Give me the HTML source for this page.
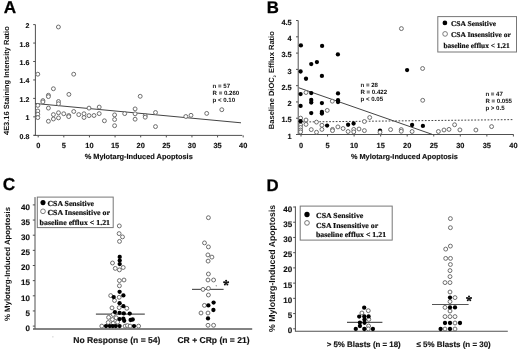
<!DOCTYPE html>
<html><head><meta charset="utf-8"><title>Figure</title>
<style>html,body{margin:0;padding:0;background:#fff;overflow:hidden;}svg{display:block;will-change:transform;text-rendering:geometricPrecision;}
</style></head>
<body><svg width="520" height="350" viewBox="0 0 520 350" shape-rendering="geometricPrecision">
<rect x="0" y="0" width="520" height="350" fill="#fff"/>
<text x="3.7" y="12.6" font-size="17.2" text-anchor="start" font-family='"Liberation Sans", sans-serif' font-weight="bold" fill="#000" stroke="#000" stroke-width="0.25" stroke-linejoin="round">A</text>
<text x="266.8" y="12.5" font-size="16.8" text-anchor="start" font-family='"Liberation Sans", sans-serif' font-weight="bold" fill="#000" stroke="#000" stroke-width="0.25" stroke-linejoin="round">B</text>
<text x="2.7" y="189.9" font-size="17.3" text-anchor="start" font-family='"Liberation Sans", sans-serif' font-weight="bold" fill="#000" stroke="#000" stroke-width="0.25" stroke-linejoin="round">C</text>
<text x="266.5" y="190.5" font-size="16.8" text-anchor="start" font-family='"Liberation Sans", sans-serif' font-weight="bold" fill="#000" stroke="#000" stroke-width="0.25" stroke-linejoin="round">D</text>
<line x1="35.4" y1="24.6" x2="35.4" y2="135.9" stroke="#505050" stroke-width="1" />
<line x1="33.9" y1="135.4" x2="242.3" y2="135.4" stroke="#505050" stroke-width="1" />
<line x1="33.199999999999996" y1="135.3" x2="35.4" y2="135.3" stroke="#505050" stroke-width="1" />
<text x="29.3" y="138.81" font-size="7.0" text-anchor="end" font-family='"Liberation Sans", sans-serif' font-weight="bold" fill="#111"  stroke="#111" stroke-width="0.15">0.8</text>
<line x1="33.199999999999996" y1="116.85000000000002" x2="35.4" y2="116.85000000000002" stroke="#505050" stroke-width="1" />
<text x="29.3" y="120.36" font-size="7.0" text-anchor="end" font-family='"Liberation Sans", sans-serif' font-weight="bold" fill="#111"  stroke="#111" stroke-width="0.15">1</text>
<line x1="33.199999999999996" y1="98.40000000000002" x2="35.4" y2="98.40000000000002" stroke="#505050" stroke-width="1" />
<text x="29.3" y="101.91" font-size="7.0" text-anchor="end" font-family='"Liberation Sans", sans-serif' font-weight="bold" fill="#111"  stroke="#111" stroke-width="0.15">1.2</text>
<line x1="33.199999999999996" y1="79.95000000000002" x2="35.4" y2="79.95000000000002" stroke="#505050" stroke-width="1" />
<text x="29.3" y="83.46" font-size="7.0" text-anchor="end" font-family='"Liberation Sans", sans-serif' font-weight="bold" fill="#111"  stroke="#111" stroke-width="0.15">1.4</text>
<line x1="33.199999999999996" y1="61.500000000000014" x2="35.4" y2="61.500000000000014" stroke="#505050" stroke-width="1" />
<text x="29.3" y="65.01" font-size="7.0" text-anchor="end" font-family='"Liberation Sans", sans-serif' font-weight="bold" fill="#111"  stroke="#111" stroke-width="0.15">1.6</text>
<line x1="33.199999999999996" y1="43.05000000000001" x2="35.4" y2="43.05000000000001" stroke="#505050" stroke-width="1" />
<text x="29.3" y="46.56" font-size="7.0" text-anchor="end" font-family='"Liberation Sans", sans-serif' font-weight="bold" fill="#111"  stroke="#111" stroke-width="0.15">1.8</text>
<line x1="33.199999999999996" y1="24.60000000000001" x2="35.4" y2="24.60000000000001" stroke="#505050" stroke-width="1" />
<text x="29.3" y="28.11" font-size="7.0" text-anchor="end" font-family='"Liberation Sans", sans-serif' font-weight="bold" fill="#111"  stroke="#111" stroke-width="0.15">2</text>
<line x1="38.2" y1="135.4" x2="38.2" y2="137.4" stroke="#505050" stroke-width="1" />
<text x="38.2" y="148.25" font-size="7.4" text-anchor="middle" font-family='"Liberation Sans", sans-serif' font-weight="bold" fill="#111"  stroke="#111" stroke-width="0.15">0</text>
<line x1="63.825" y1="135.4" x2="63.825" y2="137.4" stroke="#505050" stroke-width="1" />
<text x="63.825" y="148.25" font-size="7.4" text-anchor="middle" font-family='"Liberation Sans", sans-serif' font-weight="bold" fill="#111"  stroke="#111" stroke-width="0.15">5</text>
<line x1="89.45" y1="135.4" x2="89.45" y2="137.4" stroke="#505050" stroke-width="1" />
<text x="89.45" y="148.25" font-size="7.4" text-anchor="middle" font-family='"Liberation Sans", sans-serif' font-weight="bold" fill="#111"  stroke="#111" stroke-width="0.15">10</text>
<line x1="115.075" y1="135.4" x2="115.075" y2="137.4" stroke="#505050" stroke-width="1" />
<text x="115.075" y="148.25" font-size="7.4" text-anchor="middle" font-family='"Liberation Sans", sans-serif' font-weight="bold" fill="#111"  stroke="#111" stroke-width="0.15">15</text>
<line x1="140.7" y1="135.4" x2="140.7" y2="137.4" stroke="#505050" stroke-width="1" />
<text x="140.7" y="148.25" font-size="7.4" text-anchor="middle" font-family='"Liberation Sans", sans-serif' font-weight="bold" fill="#111"  stroke="#111" stroke-width="0.15">20</text>
<line x1="166.325" y1="135.4" x2="166.325" y2="137.4" stroke="#505050" stroke-width="1" />
<text x="166.325" y="148.25" font-size="7.4" text-anchor="middle" font-family='"Liberation Sans", sans-serif' font-weight="bold" fill="#111"  stroke="#111" stroke-width="0.15">25</text>
<line x1="191.95" y1="135.4" x2="191.95" y2="137.4" stroke="#505050" stroke-width="1" />
<text x="191.95" y="148.25" font-size="7.4" text-anchor="middle" font-family='"Liberation Sans", sans-serif' font-weight="bold" fill="#111"  stroke="#111" stroke-width="0.15">30</text>
<line x1="217.575" y1="135.4" x2="217.575" y2="137.4" stroke="#505050" stroke-width="1" />
<text x="217.575" y="148.25" font-size="7.4" text-anchor="middle" font-family='"Liberation Sans", sans-serif' font-weight="bold" fill="#111"  stroke="#111" stroke-width="0.15">35</text>
<line x1="243.2" y1="135.4" x2="243.2" y2="137.4" stroke="#505050" stroke-width="1" />
<text x="243.2" y="148.25" font-size="7.4" text-anchor="middle" font-family='"Liberation Sans", sans-serif' font-weight="bold" fill="#111"  stroke="#111" stroke-width="0.15">40</text>
<text x="138.7" y="159.15" font-size="7.4" text-anchor="middle" font-family='"Liberation Sans", sans-serif' font-weight="bold" fill="#111"  stroke="#111" stroke-width="0.15">% Mylotarg-Induced Apoptosis</text>
<text x="0" y="0" font-size="7.47" text-anchor="middle" font-family='"Liberation Sans", sans-serif' font-weight="bold" fill="#111" transform="translate(8.97,80.65) rotate(-90)">4E3.16 Staining Intensity Ratio</text>
<line x1="35.3" y1="103.5" x2="241" y2="122.8" stroke="#444" stroke-width="1" />
<text x="212.6" y="88.2" font-size="6.1" text-anchor="start" font-family='"Liberation Sans", sans-serif' font-weight="bold" fill="#111" stroke="none">n = 57</text>
<text x="212.6" y="95.2" font-size="6.1" text-anchor="start" font-family='"Liberation Sans", sans-serif' font-weight="bold" fill="#111" stroke="none">R = 0.260</text>
<text x="212.6" y="102.1" font-size="6.1" text-anchor="start" font-family='"Liberation Sans", sans-serif' font-weight="bold" fill="#111" stroke="none">p &lt; 0.10</text>
<circle cx="58.4" cy="27.0" r="1.95" fill="#fff" stroke="#666" stroke-width="0.95"/>
<circle cx="37.8" cy="74.2" r="1.95" fill="#fff" stroke="#666" stroke-width="0.95"/>
<circle cx="73.7" cy="74.2" r="1.95" fill="#fff" stroke="#666" stroke-width="0.95"/>
<circle cx="53.4" cy="88.75" r="1.95" fill="#fff" stroke="#666" stroke-width="0.95"/>
<circle cx="48.4" cy="95.25" r="1.95" fill="#fff" stroke="#666" stroke-width="0.95"/>
<circle cx="48.4" cy="96.6" r="1.95" fill="#fff" stroke="#666" stroke-width="0.95"/>
<circle cx="68.9" cy="94.4" r="1.95" fill="#fff" stroke="#666" stroke-width="0.95"/>
<circle cx="42.9" cy="100.6" r="1.95" fill="#fff" stroke="#666" stroke-width="0.95"/>
<circle cx="42.9" cy="101.9" r="1.95" fill="#fff" stroke="#666" stroke-width="0.95"/>
<circle cx="58.5" cy="101.5" r="1.95" fill="#fff" stroke="#666" stroke-width="0.95"/>
<circle cx="58.5" cy="103.75" r="1.95" fill="#fff" stroke="#666" stroke-width="0.95"/>
<circle cx="37.8" cy="105.4" r="1.95" fill="#fff" stroke="#666" stroke-width="0.95"/>
<circle cx="48.4" cy="108.1" r="1.95" fill="#fff" stroke="#666" stroke-width="0.95"/>
<circle cx="37.8" cy="111" r="1.95" fill="#fff" stroke="#666" stroke-width="0.95"/>
<circle cx="37.8" cy="114.2" r="1.95" fill="#fff" stroke="#666" stroke-width="0.95"/>
<circle cx="37.8" cy="117.6" r="1.95" fill="#fff" stroke="#666" stroke-width="0.95"/>
<circle cx="53.4" cy="114.6" r="1.95" fill="#fff" stroke="#666" stroke-width="0.95"/>
<circle cx="58.5" cy="112.75" r="1.95" fill="#fff" stroke="#666" stroke-width="0.95"/>
<circle cx="58.5" cy="117.9" r="1.95" fill="#fff" stroke="#666" stroke-width="0.95"/>
<circle cx="63.75" cy="113.75" r="1.95" fill="#fff" stroke="#666" stroke-width="0.95"/>
<circle cx="68.75" cy="115.5" r="1.95" fill="#fff" stroke="#666" stroke-width="0.95"/>
<circle cx="68.75" cy="116.6" r="1.95" fill="#fff" stroke="#666" stroke-width="0.95"/>
<circle cx="73.75" cy="111.5" r="1.95" fill="#fff" stroke="#666" stroke-width="0.95"/>
<circle cx="78.75" cy="114.6" r="1.95" fill="#fff" stroke="#666" stroke-width="0.95"/>
<circle cx="84" cy="113.75" r="1.95" fill="#fff" stroke="#666" stroke-width="0.95"/>
<circle cx="84" cy="117.5" r="1.95" fill="#fff" stroke="#666" stroke-width="0.95"/>
<circle cx="89" cy="108.1" r="1.95" fill="#fff" stroke="#666" stroke-width="0.95"/>
<circle cx="89" cy="115.6" r="1.95" fill="#fff" stroke="#666" stroke-width="0.95"/>
<circle cx="94" cy="115.5" r="1.95" fill="#fff" stroke="#666" stroke-width="0.95"/>
<circle cx="48.4" cy="121.25" r="1.95" fill="#fff" stroke="#666" stroke-width="0.95"/>
<circle cx="53.4" cy="119" r="1.95" fill="#fff" stroke="#666" stroke-width="0.95"/>
<circle cx="99.2" cy="107.1" r="1.95" fill="#fff" stroke="#666" stroke-width="0.95"/>
<circle cx="99.2" cy="113.6" r="1.95" fill="#fff" stroke="#666" stroke-width="0.95"/>
<circle cx="104.4" cy="120.8" r="1.95" fill="#fff" stroke="#666" stroke-width="0.95"/>
<circle cx="114.6" cy="114.9" r="1.95" fill="#fff" stroke="#666" stroke-width="0.95"/>
<circle cx="114.6" cy="119.5" r="1.95" fill="#fff" stroke="#666" stroke-width="0.95"/>
<circle cx="114.6" cy="125.7" r="1.95" fill="#fff" stroke="#666" stroke-width="0.95"/>
<circle cx="124.7" cy="113.6" r="1.95" fill="#fff" stroke="#666" stroke-width="0.95"/>
<circle cx="135.1" cy="108.9" r="1.95" fill="#fff" stroke="#666" stroke-width="0.95"/>
<circle cx="135.1" cy="113.8" r="1.95" fill="#fff" stroke="#666" stroke-width="0.95"/>
<circle cx="135.1" cy="119.2" r="1.95" fill="#fff" stroke="#666" stroke-width="0.95"/>
<circle cx="140.2" cy="96.3" r="1.95" fill="#fff" stroke="#666" stroke-width="0.95"/>
<circle cx="145.2" cy="115.6" r="1.95" fill="#fff" stroke="#666" stroke-width="0.95"/>
<circle cx="145.2" cy="117.2" r="1.95" fill="#fff" stroke="#666" stroke-width="0.95"/>
<circle cx="155.5" cy="112.5" r="1.95" fill="#fff" stroke="#666" stroke-width="0.95"/>
<circle cx="155.5" cy="126.6" r="1.95" fill="#fff" stroke="#666" stroke-width="0.95"/>
<circle cx="185.8" cy="116.5" r="1.95" fill="#fff" stroke="#666" stroke-width="0.95"/>
<circle cx="191" cy="115.3" r="1.95" fill="#fff" stroke="#666" stroke-width="0.95"/>
<circle cx="206.7" cy="113.4" r="1.95" fill="#fff" stroke="#666" stroke-width="0.95"/>
<circle cx="221.8" cy="109.7" r="1.95" fill="#fff" stroke="#666" stroke-width="0.95"/>
<line x1="298.2" y1="20.5" x2="298.2" y2="135.0" stroke="#505050" stroke-width="1" />
<line x1="296.7" y1="134.5" x2="513.6" y2="134.5" stroke="#505050" stroke-width="1" />
<line x1="296.0" y1="134.5" x2="298.2" y2="134.5" stroke="#505050" stroke-width="1" />
<text x="291.7" y="138.75" font-size="7.4" text-anchor="end" font-family='"Liberation Sans", sans-serif' font-weight="bold" fill="#111"  stroke="#111" stroke-width="0.15">1</text>
<line x1="296.0" y1="118.22" x2="298.2" y2="118.22" stroke="#505050" stroke-width="1" />
<text x="291.7" y="122.47" font-size="7.4" text-anchor="end" font-family='"Liberation Sans", sans-serif' font-weight="bold" fill="#111"  stroke="#111" stroke-width="0.15">1.5</text>
<line x1="296.0" y1="101.94" x2="298.2" y2="101.94" stroke="#505050" stroke-width="1" />
<text x="291.7" y="106.19" font-size="7.4" text-anchor="end" font-family='"Liberation Sans", sans-serif' font-weight="bold" fill="#111"  stroke="#111" stroke-width="0.15">2</text>
<line x1="296.0" y1="85.66" x2="298.2" y2="85.66" stroke="#505050" stroke-width="1" />
<text x="291.7" y="89.91" font-size="7.4" text-anchor="end" font-family='"Liberation Sans", sans-serif' font-weight="bold" fill="#111"  stroke="#111" stroke-width="0.15">2.5</text>
<line x1="296.0" y1="69.38" x2="298.2" y2="69.38" stroke="#505050" stroke-width="1" />
<text x="291.7" y="73.63" font-size="7.4" text-anchor="end" font-family='"Liberation Sans", sans-serif' font-weight="bold" fill="#111"  stroke="#111" stroke-width="0.15">3</text>
<line x1="296.0" y1="53.099999999999994" x2="298.2" y2="53.099999999999994" stroke="#505050" stroke-width="1" />
<text x="291.7" y="57.35" font-size="7.4" text-anchor="end" font-family='"Liberation Sans", sans-serif' font-weight="bold" fill="#111"  stroke="#111" stroke-width="0.15">3.5</text>
<line x1="296.0" y1="36.81999999999999" x2="298.2" y2="36.81999999999999" stroke="#505050" stroke-width="1" />
<text x="291.7" y="41.07" font-size="7.4" text-anchor="end" font-family='"Liberation Sans", sans-serif' font-weight="bold" fill="#111"  stroke="#111" stroke-width="0.15">4</text>
<line x1="296.0" y1="20.539999999999992" x2="298.2" y2="20.539999999999992" stroke="#505050" stroke-width="1" />
<text x="291.7" y="24.79" font-size="7.4" text-anchor="end" font-family='"Liberation Sans", sans-serif' font-weight="bold" fill="#111"  stroke="#111" stroke-width="0.15">4.5</text>
<line x1="301.0" y1="134.5" x2="301.0" y2="136.5" stroke="#505050" stroke-width="1" />
<text x="301.0" y="148.05" font-size="7.4" text-anchor="middle" font-family='"Liberation Sans", sans-serif' font-weight="bold" fill="#111"  stroke="#111" stroke-width="0.15">0</text>
<line x1="327.55" y1="134.5" x2="327.55" y2="136.5" stroke="#505050" stroke-width="1" />
<text x="327.55" y="148.05" font-size="7.4" text-anchor="middle" font-family='"Liberation Sans", sans-serif' font-weight="bold" fill="#111"  stroke="#111" stroke-width="0.15">5</text>
<line x1="354.1" y1="134.5" x2="354.1" y2="136.5" stroke="#505050" stroke-width="1" />
<text x="354.1" y="148.05" font-size="7.4" text-anchor="middle" font-family='"Liberation Sans", sans-serif' font-weight="bold" fill="#111"  stroke="#111" stroke-width="0.15">10</text>
<line x1="380.65" y1="134.5" x2="380.65" y2="136.5" stroke="#505050" stroke-width="1" />
<text x="380.65" y="148.05" font-size="7.4" text-anchor="middle" font-family='"Liberation Sans", sans-serif' font-weight="bold" fill="#111"  stroke="#111" stroke-width="0.15">15</text>
<line x1="407.2" y1="134.5" x2="407.2" y2="136.5" stroke="#505050" stroke-width="1" />
<text x="407.2" y="148.05" font-size="7.4" text-anchor="middle" font-family='"Liberation Sans", sans-serif' font-weight="bold" fill="#111"  stroke="#111" stroke-width="0.15">20</text>
<line x1="433.75" y1="134.5" x2="433.75" y2="136.5" stroke="#505050" stroke-width="1" />
<text x="433.75" y="148.05" font-size="7.4" text-anchor="middle" font-family='"Liberation Sans", sans-serif' font-weight="bold" fill="#111"  stroke="#111" stroke-width="0.15">25</text>
<line x1="460.29999999999995" y1="134.5" x2="460.29999999999995" y2="136.5" stroke="#505050" stroke-width="1" />
<text x="460.29999999999995" y="148.05" font-size="7.4" text-anchor="middle" font-family='"Liberation Sans", sans-serif' font-weight="bold" fill="#111"  stroke="#111" stroke-width="0.15">30</text>
<line x1="486.85" y1="134.5" x2="486.85" y2="136.5" stroke="#505050" stroke-width="1" />
<text x="486.85" y="148.05" font-size="7.4" text-anchor="middle" font-family='"Liberation Sans", sans-serif' font-weight="bold" fill="#111"  stroke="#111" stroke-width="0.15">35</text>
<line x1="513.4" y1="134.5" x2="513.4" y2="136.5" stroke="#505050" stroke-width="1" />
<text x="513.4" y="148.05" font-size="7.4" text-anchor="middle" font-family='"Liberation Sans", sans-serif' font-weight="bold" fill="#111"  stroke="#111" stroke-width="0.15">40</text>
<text x="404.4" y="159.31" font-size="7.3" text-anchor="middle" font-family='"Liberation Sans", sans-serif' font-weight="bold" fill="#111"  stroke="#111" stroke-width="0.15">% Mylotarg-Induced Apoptosis</text>
<text x="0" y="0" font-size="7.55" text-anchor="middle" font-family='"Liberation Sans", sans-serif' font-weight="bold" fill="#111" transform="translate(273.7,80.2) rotate(-90)">Baseline DiOC<tspan font-size="3.6" dy="2.2">2</tspan><tspan dy="-2.2"> Efflux Ratio</tspan></text>
<line x1="298.75" y1="87.75" x2="432.0" y2="134.3" stroke="#444" stroke-width="1" />
<line x1="299.5" y1="122.0" x2="513.8" y2="119.6" stroke="#444" stroke-width="1" stroke-dasharray="1.7 1.6"/>
<text x="360.5" y="86.9" font-size="6.1" text-anchor="start" font-family='"Liberation Sans", sans-serif' font-weight="bold" fill="#111" stroke="none">n = 28</text>
<text x="360.5" y="94.0" font-size="6.1" text-anchor="start" font-family='"Liberation Sans", sans-serif' font-weight="bold" fill="#111" stroke="none">R = 0.422</text>
<text x="360.5" y="101.1" font-size="6.1" text-anchor="start" font-family='"Liberation Sans", sans-serif' font-weight="bold" fill="#111" stroke="none">p &lt; 0.05</text>
<text x="485.4" y="96.1" font-size="6.1" text-anchor="start" font-family='"Liberation Sans", sans-serif' font-weight="bold" fill="#111" stroke="none">n = 47</text>
<text x="485.4" y="103.2" font-size="6.1" text-anchor="start" font-family='"Liberation Sans", sans-serif' font-weight="bold" fill="#111" stroke="none">R = 0.055</text>
<text x="485.4" y="110.3" font-size="6.1" text-anchor="start" font-family='"Liberation Sans", sans-serif' font-weight="bold" fill="#111" stroke="none">p &gt; 0.5</text>
<circle cx="306" cy="92.5" r="1.95" fill="#fff" stroke="#666" stroke-width="0.95"/>
<circle cx="332.3" cy="101.2" r="1.95" fill="#fff" stroke="#666" stroke-width="0.95"/>
<circle cx="327.25" cy="110.4" r="1.95" fill="#fff" stroke="#666" stroke-width="0.95"/>
<circle cx="300.6" cy="118.1" r="1.95" fill="#fff" stroke="#666" stroke-width="0.95"/>
<circle cx="306" cy="120" r="1.95" fill="#fff" stroke="#666" stroke-width="0.95"/>
<circle cx="306" cy="124.4" r="1.95" fill="#fff" stroke="#666" stroke-width="0.95"/>
<circle cx="316.5" cy="122.1" r="1.95" fill="#fff" stroke="#666" stroke-width="0.95"/>
<circle cx="321.9" cy="125.25" r="1.95" fill="#fff" stroke="#666" stroke-width="0.95"/>
<circle cx="321.9" cy="129.4" r="1.95" fill="#fff" stroke="#666" stroke-width="0.95"/>
<circle cx="300.6" cy="125" r="1.95" fill="#fff" stroke="#666" stroke-width="0.95"/>
<circle cx="300.6" cy="127.5" r="1.95" fill="#fff" stroke="#666" stroke-width="0.95"/>
<circle cx="300.6" cy="130" r="1.95" fill="#fff" stroke="#666" stroke-width="0.95"/>
<circle cx="300.6" cy="131.9" r="1.95" fill="#fff" stroke="#666" stroke-width="0.95"/>
<circle cx="311.25" cy="129.6" r="1.95" fill="#fff" stroke="#666" stroke-width="0.95"/>
<circle cx="316.5" cy="132.25" r="1.95" fill="#fff" stroke="#666" stroke-width="0.95"/>
<circle cx="332.5" cy="129.4" r="1.95" fill="#fff" stroke="#666" stroke-width="0.95"/>
<circle cx="332.5" cy="130.6" r="1.95" fill="#fff" stroke="#666" stroke-width="0.95"/>
<circle cx="337.9" cy="126.9" r="1.95" fill="#fff" stroke="#666" stroke-width="0.95"/>
<circle cx="343.1" cy="128.5" r="1.95" fill="#fff" stroke="#666" stroke-width="0.95"/>
<circle cx="348.1" cy="131.5" r="1.95" fill="#fff" stroke="#666" stroke-width="0.95"/>
<circle cx="353.75" cy="129.4" r="1.95" fill="#fff" stroke="#666" stroke-width="0.95"/>
<circle cx="353.75" cy="131.9" r="1.95" fill="#fff" stroke="#666" stroke-width="0.95"/>
<circle cx="359" cy="129" r="1.95" fill="#fff" stroke="#666" stroke-width="0.95"/>
<circle cx="364.4" cy="121.5" r="1.95" fill="#fff" stroke="#666" stroke-width="0.95"/>
<circle cx="369.7" cy="117.5" r="1.95" fill="#fff" stroke="#666" stroke-width="0.95"/>
<circle cx="364.4" cy="130.6" r="1.95" fill="#fff" stroke="#666" stroke-width="0.95"/>
<circle cx="390.6" cy="129.6" r="1.95" fill="#fff" stroke="#666" stroke-width="0.95"/>
<circle cx="401.25" cy="129.6" r="1.95" fill="#fff" stroke="#666" stroke-width="0.95"/>
<circle cx="401.25" cy="131.25" r="1.95" fill="#fff" stroke="#666" stroke-width="0.95"/>
<circle cx="412.1" cy="131.5" r="1.95" fill="#fff" stroke="#666" stroke-width="0.95"/>
<circle cx="422.7" cy="100.3" r="1.95" fill="#fff" stroke="#666" stroke-width="0.95"/>
<circle cx="422.6" cy="68.5" r="1.95" fill="#fff" stroke="#666" stroke-width="0.95"/>
<circle cx="401.4" cy="28.6" r="1.95" fill="#fff" stroke="#666" stroke-width="0.95"/>
<circle cx="438.4" cy="131.5" r="1.95" fill="#fff" stroke="#666" stroke-width="0.95"/>
<circle cx="444" cy="130" r="1.95" fill="#fff" stroke="#666" stroke-width="0.95"/>
<circle cx="449" cy="129.4" r="1.95" fill="#fff" stroke="#666" stroke-width="0.95"/>
<circle cx="454.6" cy="124.75" r="1.95" fill="#fff" stroke="#666" stroke-width="0.95"/>
<circle cx="459.9" cy="129.9" r="1.95" fill="#fff" stroke="#666" stroke-width="0.95"/>
<circle cx="475.9" cy="130" r="1.95" fill="#fff" stroke="#666" stroke-width="0.95"/>
<circle cx="491.6" cy="126.6" r="1.95" fill="#fff" stroke="#666" stroke-width="0.95"/>
<circle cx="300.9" cy="45.4" r="2.15" fill="#000"/>
<circle cx="322.1" cy="45.9" r="2.15" fill="#000"/>
<circle cx="337.9" cy="54.4" r="2.15" fill="#000"/>
<circle cx="311.25" cy="64.1" r="2.15" fill="#000"/>
<circle cx="316.9" cy="62.1" r="2.15" fill="#000"/>
<circle cx="300.6" cy="71.5" r="2.15" fill="#000"/>
<circle cx="321.9" cy="75.9" r="2.15" fill="#000"/>
<circle cx="306" cy="78.75" r="2.15" fill="#000"/>
<circle cx="300.6" cy="94.1" r="2.15" fill="#000"/>
<circle cx="311.25" cy="93.1" r="2.15" fill="#000"/>
<circle cx="338" cy="93.4" r="2.15" fill="#000"/>
<circle cx="311.25" cy="100" r="2.15" fill="#000"/>
<circle cx="311.25" cy="102.5" r="2.15" fill="#000"/>
<circle cx="338" cy="100.2" r="2.15" fill="#000"/>
<circle cx="338" cy="102.1" r="2.15" fill="#000"/>
<circle cx="321.9" cy="103.1" r="2.15" fill="#000"/>
<circle cx="300.6" cy="105.9" r="2.15" fill="#000"/>
<circle cx="311.25" cy="113.1" r="2.15" fill="#000"/>
<circle cx="321.9" cy="111.9" r="2.15" fill="#000"/>
<circle cx="321.9" cy="113.5" r="2.15" fill="#000"/>
<circle cx="300.6" cy="121.25" r="2.15" fill="#000"/>
<circle cx="327.1" cy="125.6" r="2.15" fill="#000"/>
<circle cx="348.1" cy="124.75" r="2.15" fill="#000"/>
<circle cx="353.6" cy="123.5" r="2.15" fill="#000"/>
<circle cx="380" cy="130.6" r="2.15" fill="#000"/>
<circle cx="412.1" cy="125" r="2.15" fill="#000"/>
<circle cx="422.9" cy="125.9" r="2.15" fill="#000"/>
<circle cx="407.1" cy="70.1" r="2.15" fill="#000"/>
<circle cx="380" cy="132.3" r="1.95" fill="#fff" stroke="#666" stroke-width="0.95"/>
<rect x="437.8" y="16.6" width="78.7" height="35.4" fill="#fff" stroke="#777" stroke-width="1"/>
<circle cx="444.9" cy="22.9" r="2.35" fill="#000"/>
<circle cx="445.1" cy="33.9" r="2.35" fill="#fff" stroke="#666" stroke-width="0.85"/>
<text x="450.9" y="25.81" font-size="7.3" text-anchor="start" font-family='"Liberation Serif", serif' font-weight="bold" fill="#111" textLength="45.2" lengthAdjust="spacingAndGlyphs" stroke="#111" stroke-width="0.2">CSA Sensitive</text>
<text x="450.9" y="36.81" font-size="7.3" text-anchor="start" font-family='"Liberation Serif", serif' font-weight="bold" fill="#111" textLength="59.9" lengthAdjust="spacingAndGlyphs" stroke="#111" stroke-width="0.2">CSA Insensitive or</text>
<text x="443.5" y="47.91" font-size="7.3" text-anchor="start" font-family='"Liberation Serif", serif' font-weight="bold" fill="#111" textLength="66.2" lengthAdjust="spacingAndGlyphs" stroke="#111" stroke-width="0.2">baseline efflux &lt; 1.21</text>
<line x1="35.0" y1="197.1" x2="35.0" y2="329.0" stroke="#505050" stroke-width="1" />
<line x1="33.0" y1="329.0" x2="252.2" y2="329.0" stroke="#5a5a5a" stroke-width="1.3" />
<line x1="32.8" y1="326.1" x2="35.0" y2="326.1" stroke="#505050" stroke-width="1" />
<text x="30.0" y="330.86" font-size="8.0" text-anchor="end" font-family='"Liberation Sans", sans-serif' font-weight="bold" fill="#111"  stroke="#111" stroke-width="0.15">0</text>
<line x1="32.8" y1="310.95000000000005" x2="35.0" y2="310.95000000000005" stroke="#505050" stroke-width="1" />
<text x="30.0" y="315.71" font-size="8.0" text-anchor="end" font-family='"Liberation Sans", sans-serif' font-weight="bold" fill="#111"  stroke="#111" stroke-width="0.15">5</text>
<line x1="32.8" y1="295.8" x2="35.0" y2="295.8" stroke="#505050" stroke-width="1" />
<text x="30.0" y="300.56" font-size="8.0" text-anchor="end" font-family='"Liberation Sans", sans-serif' font-weight="bold" fill="#111"  stroke="#111" stroke-width="0.15">10</text>
<line x1="32.8" y1="280.65000000000003" x2="35.0" y2="280.65000000000003" stroke="#505050" stroke-width="1" />
<text x="30.0" y="285.41" font-size="8.0" text-anchor="end" font-family='"Liberation Sans", sans-serif' font-weight="bold" fill="#111"  stroke="#111" stroke-width="0.15">15</text>
<line x1="32.8" y1="265.5" x2="35.0" y2="265.5" stroke="#505050" stroke-width="1" />
<text x="30.0" y="270.26" font-size="8.0" text-anchor="end" font-family='"Liberation Sans", sans-serif' font-weight="bold" fill="#111"  stroke="#111" stroke-width="0.15">20</text>
<line x1="32.8" y1="250.35000000000002" x2="35.0" y2="250.35000000000002" stroke="#505050" stroke-width="1" />
<text x="30.0" y="255.11" font-size="8.0" text-anchor="end" font-family='"Liberation Sans", sans-serif' font-weight="bold" fill="#111"  stroke="#111" stroke-width="0.15">25</text>
<line x1="32.8" y1="235.20000000000005" x2="35.0" y2="235.20000000000005" stroke="#505050" stroke-width="1" />
<text x="30.0" y="239.96" font-size="8.0" text-anchor="end" font-family='"Liberation Sans", sans-serif' font-weight="bold" fill="#111"  stroke="#111" stroke-width="0.15">30</text>
<line x1="32.8" y1="220.05" x2="35.0" y2="220.05" stroke="#505050" stroke-width="1" />
<text x="30.0" y="224.81" font-size="8.0" text-anchor="end" font-family='"Liberation Sans", sans-serif' font-weight="bold" fill="#111"  stroke="#111" stroke-width="0.15">35</text>
<line x1="32.8" y1="204.90000000000003" x2="35.0" y2="204.90000000000003" stroke="#505050" stroke-width="1" />
<text x="30.0" y="209.66" font-size="8.0" text-anchor="end" font-family='"Liberation Sans", sans-serif' font-weight="bold" fill="#111"  stroke="#111" stroke-width="0.15">40</text>
<text x="0" y="0" font-size="7.8" text-anchor="middle" font-family='"Liberation Sans", sans-serif' font-weight="bold" fill="#111" transform="translate(9.89,264.0) rotate(-90)">% Mylotarg-Induced Apoptosis</text>
<text x="116.8" y="342.66" font-size="8.55" text-anchor="middle" font-family='"Liberation Sans", sans-serif' font-weight="bold" fill="#111"  stroke="#111" stroke-width="0.15">No Response (n = 54)</text>
<text x="213.5" y="342.66" font-size="8.55" text-anchor="middle" font-family='"Liberation Sans", sans-serif' font-weight="bold" fill="#111"  stroke="#111" stroke-width="0.15">CR + CRp (n = 21)</text>
<line x1="95.9" y1="314.1" x2="144.8" y2="314.1" stroke="#555" stroke-width="1.2" />
<line x1="192" y1="289.4" x2="223.6" y2="289.4" stroke="#555" stroke-width="1.2" />
<line x1="226.1" y1="282.8" x2="226.10" y2="280.70" stroke="#111" stroke-width="0.95" stroke-linecap="round"/>
<circle cx="226.10" cy="280.70" r="1.0" fill="#111"/>
<line x1="226.1" y1="282.8" x2="228.10" y2="282.15" stroke="#111" stroke-width="0.95" stroke-linecap="round"/>
<circle cx="228.10" cy="282.15" r="1.0" fill="#111"/>
<line x1="226.1" y1="282.8" x2="227.33" y2="284.50" stroke="#111" stroke-width="0.95" stroke-linecap="round"/>
<circle cx="227.33" cy="284.50" r="1.0" fill="#111"/>
<line x1="226.1" y1="282.8" x2="224.87" y2="284.50" stroke="#111" stroke-width="0.95" stroke-linecap="round"/>
<circle cx="224.87" cy="284.50" r="1.0" fill="#111"/>
<line x1="226.1" y1="282.8" x2="224.10" y2="282.15" stroke="#111" stroke-width="0.95" stroke-linecap="round"/>
<circle cx="224.10" cy="282.15" r="1.0" fill="#111"/>
<circle cx="216.3" cy="285.7" r="0.7" fill="#999"/>
<circle cx="119.3" cy="225.9" r="1.95" fill="#fff" stroke="#666" stroke-width="0.95"/>
<circle cx="119.1" cy="233.6" r="1.95" fill="#fff" stroke="#666" stroke-width="0.95"/>
<circle cx="122.5" cy="236.9" r="1.95" fill="#fff" stroke="#666" stroke-width="0.95"/>
<circle cx="119.5" cy="241.4" r="1.95" fill="#fff" stroke="#666" stroke-width="0.95"/>
<circle cx="112.5" cy="263" r="1.95" fill="#fff" stroke="#666" stroke-width="0.95"/>
<circle cx="115.3" cy="268.4" r="1.95" fill="#fff" stroke="#666" stroke-width="0.95"/>
<circle cx="119.4" cy="269.9" r="1.95" fill="#fff" stroke="#666" stroke-width="0.95"/>
<circle cx="123.2" cy="267.5" r="1.95" fill="#fff" stroke="#666" stroke-width="0.95"/>
<circle cx="119.4" cy="280.6" r="1.95" fill="#fff" stroke="#666" stroke-width="0.95"/>
<circle cx="124" cy="280" r="1.95" fill="#fff" stroke="#666" stroke-width="0.95"/>
<circle cx="119.4" cy="285.8" r="1.95" fill="#fff" stroke="#666" stroke-width="0.95"/>
<circle cx="110.7" cy="295.6" r="1.95" fill="#fff" stroke="#666" stroke-width="0.95"/>
<circle cx="114.5" cy="300.5" r="1.95" fill="#fff" stroke="#666" stroke-width="0.95"/>
<circle cx="119.2" cy="297.3" r="1.95" fill="#fff" stroke="#666" stroke-width="0.95"/>
<circle cx="112" cy="307.9" r="1.95" fill="#fff" stroke="#666" stroke-width="0.95"/>
<circle cx="119.2" cy="307.6" r="1.95" fill="#fff" stroke="#666" stroke-width="0.95"/>
<circle cx="126.8" cy="308.3" r="1.95" fill="#fff" stroke="#666" stroke-width="0.95"/>
<circle cx="113.2" cy="314.5" r="1.95" fill="#fff" stroke="#666" stroke-width="0.95"/>
<circle cx="108.6" cy="317.4" r="1.95" fill="#fff" stroke="#666" stroke-width="0.95"/>
<circle cx="112.4" cy="319.5" r="1.95" fill="#fff" stroke="#666" stroke-width="0.95"/>
<circle cx="116.2" cy="317.8" r="1.95" fill="#fff" stroke="#666" stroke-width="0.95"/>
<circle cx="108.2" cy="322.5" r="1.95" fill="#fff" stroke="#666" stroke-width="0.95"/>
<circle cx="113.2" cy="323.3" r="1.95" fill="#fff" stroke="#666" stroke-width="0.95"/>
<circle cx="117.6" cy="322.2" r="1.95" fill="#fff" stroke="#666" stroke-width="0.95"/>
<circle cx="101.8" cy="326.1" r="1.95" fill="#fff" stroke="#666" stroke-width="0.95"/>
<circle cx="125.1" cy="326.1" r="1.95" fill="#fff" stroke="#666" stroke-width="0.95"/>
<circle cx="127.4" cy="325.6" r="1.95" fill="#fff" stroke="#666" stroke-width="0.95"/>
<circle cx="130.1" cy="326.1" r="1.95" fill="#fff" stroke="#666" stroke-width="0.95"/>
<circle cx="138.6" cy="326.1" r="1.95" fill="#fff" stroke="#666" stroke-width="0.95"/>
<circle cx="208.4" cy="217.7" r="1.95" fill="#fff" stroke="#666" stroke-width="0.95"/>
<circle cx="204.5" cy="242.9" r="1.95" fill="#fff" stroke="#666" stroke-width="0.95"/>
<circle cx="208.4" cy="246.9" r="1.95" fill="#fff" stroke="#666" stroke-width="0.95"/>
<circle cx="207.9" cy="254.9" r="1.95" fill="#fff" stroke="#666" stroke-width="0.95"/>
<circle cx="211.9" cy="257.1" r="1.95" fill="#fff" stroke="#666" stroke-width="0.95"/>
<circle cx="208.1" cy="261.1" r="1.95" fill="#fff" stroke="#666" stroke-width="0.95"/>
<circle cx="208.4" cy="274" r="1.95" fill="#fff" stroke="#666" stroke-width="0.95"/>
<circle cx="208" cy="280" r="1.95" fill="#fff" stroke="#666" stroke-width="0.95"/>
<circle cx="213.6" cy="280" r="1.95" fill="#fff" stroke="#666" stroke-width="0.95"/>
<circle cx="203" cy="289.4" r="1.95" fill="#fff" stroke="#666" stroke-width="0.95"/>
<circle cx="208.4" cy="288.4" r="1.95" fill="#fff" stroke="#666" stroke-width="0.95"/>
<circle cx="208.4" cy="295" r="1.95" fill="#fff" stroke="#666" stroke-width="0.95"/>
<circle cx="204.4" cy="305.4" r="1.95" fill="#fff" stroke="#666" stroke-width="0.95"/>
<circle cx="201" cy="313" r="1.95" fill="#fff" stroke="#666" stroke-width="0.95"/>
<circle cx="208" cy="313" r="1.95" fill="#fff" stroke="#666" stroke-width="0.95"/>
<circle cx="208" cy="325.3" r="1.95" fill="#fff" stroke="#666" stroke-width="0.95"/>
<circle cx="213.6" cy="325.3" r="1.95" fill="#fff" stroke="#666" stroke-width="0.95"/>
<circle cx="119.7" cy="256.9" r="2.15" fill="#000"/>
<circle cx="119.7" cy="260.6" r="2.15" fill="#000"/>
<circle cx="119.7" cy="264.1" r="2.15" fill="#000"/>
<circle cx="119.6" cy="291.8" r="2.15" fill="#000"/>
<circle cx="113.7" cy="297.1" r="2.15" fill="#000"/>
<circle cx="123.4" cy="295.4" r="2.15" fill="#000"/>
<circle cx="119.6" cy="303.2" r="2.15" fill="#000"/>
<circle cx="123.4" cy="306.2" r="2.15" fill="#000"/>
<circle cx="114.9" cy="312.1" r="2.15" fill="#000"/>
<circle cx="119.6" cy="312.8" r="2.15" fill="#000"/>
<circle cx="123.8" cy="313.4" r="2.15" fill="#000"/>
<circle cx="129.7" cy="313.6" r="2.15" fill="#000"/>
<circle cx="119.6" cy="319.1" r="2.15" fill="#000"/>
<circle cx="123.4" cy="318.7" r="2.15" fill="#000"/>
<circle cx="124.2" cy="320.8" r="2.15" fill="#000"/>
<circle cx="130.6" cy="320" r="2.15" fill="#000"/>
<circle cx="132.7" cy="319.5" r="2.15" fill="#000"/>
<circle cx="106" cy="326.1" r="2.15" fill="#000"/>
<circle cx="109.8" cy="326.1" r="2.15" fill="#000"/>
<circle cx="112.8" cy="326.1" r="2.15" fill="#000"/>
<circle cx="115.8" cy="326.1" r="2.15" fill="#000"/>
<circle cx="119.6" cy="326.1" r="2.15" fill="#000"/>
<circle cx="134" cy="326.1" r="2.15" fill="#000"/>
<circle cx="208.4" cy="305.4" r="2.15" fill="#000"/>
<circle cx="213.6" cy="302.6" r="2.15" fill="#000"/>
<circle cx="213.4" cy="310" r="2.15" fill="#000"/>
<circle cx="208" cy="318.4" r="2.15" fill="#000"/>
<rect x="37.3" y="197.1" width="75.9" height="30.5" fill="#fff" stroke="#777" stroke-width="1"/>
<circle cx="43.0" cy="202.6" r="2.55" fill="#000"/>
<circle cx="43.0" cy="211.3" r="2.35" fill="#fff" stroke="#666" stroke-width="0.85"/>
<circle cx="52.9" cy="336.8" r="0.6" fill="#bbb"/>
<text x="47.4" y="206.01" font-size="7.6" text-anchor="start" font-family='"Liberation Serif", serif' font-weight="bold" fill="#111" textLength="46.7" lengthAdjust="spacingAndGlyphs" stroke="#111" stroke-width="0.2">CSA Sensitive</text>
<text x="47.4" y="215.31" font-size="7.6" text-anchor="start" font-family='"Liberation Serif", serif' font-weight="bold" fill="#111" textLength="62.6" lengthAdjust="spacingAndGlyphs" stroke="#111" stroke-width="0.2">CSA Insensitive or</text>
<text x="39.6" y="224.91" font-size="7.6" text-anchor="start" font-family='"Liberation Serif", serif' font-weight="bold" fill="#111" textLength="70.4" lengthAdjust="spacingAndGlyphs" stroke="#111" stroke-width="0.2">baseline efflux &lt; 1.21</text>
<line x1="295.4" y1="206.4" x2="295.4" y2="331.2" stroke="#505050" stroke-width="1" />
<line x1="294.9" y1="331.2" x2="507.8" y2="331.2" stroke="#505050" stroke-width="1.1" />
<line x1="293.2" y1="328.8" x2="295.4" y2="328.8" stroke="#505050" stroke-width="1" />
<text x="292.1" y="333.36" font-size="8.0" text-anchor="end" font-family='"Liberation Sans", sans-serif' font-weight="bold" fill="#111"  stroke="#111" stroke-width="0.15">0</text>
<line x1="293.2" y1="313.575" x2="295.4" y2="313.575" stroke="#505050" stroke-width="1" />
<text x="292.1" y="318.14" font-size="8.0" text-anchor="end" font-family='"Liberation Sans", sans-serif' font-weight="bold" fill="#111"  stroke="#111" stroke-width="0.15">5</text>
<line x1="293.2" y1="298.35" x2="295.4" y2="298.35" stroke="#505050" stroke-width="1" />
<text x="292.1" y="302.91" font-size="8.0" text-anchor="end" font-family='"Liberation Sans", sans-serif' font-weight="bold" fill="#111"  stroke="#111" stroke-width="0.15">10</text>
<line x1="293.2" y1="283.125" x2="295.4" y2="283.125" stroke="#505050" stroke-width="1" />
<text x="292.1" y="287.69" font-size="8.0" text-anchor="end" font-family='"Liberation Sans", sans-serif' font-weight="bold" fill="#111"  stroke="#111" stroke-width="0.15">15</text>
<line x1="293.2" y1="267.90000000000003" x2="295.4" y2="267.90000000000003" stroke="#505050" stroke-width="1" />
<text x="292.1" y="272.46" font-size="8.0" text-anchor="end" font-family='"Liberation Sans", sans-serif' font-weight="bold" fill="#111"  stroke="#111" stroke-width="0.15">20</text>
<line x1="293.2" y1="252.675" x2="295.4" y2="252.675" stroke="#505050" stroke-width="1" />
<text x="292.1" y="257.24" font-size="8.0" text-anchor="end" font-family='"Liberation Sans", sans-serif' font-weight="bold" fill="#111"  stroke="#111" stroke-width="0.15">25</text>
<line x1="293.2" y1="237.45000000000002" x2="295.4" y2="237.45000000000002" stroke="#505050" stroke-width="1" />
<text x="292.1" y="242.01" font-size="8.0" text-anchor="end" font-family='"Liberation Sans", sans-serif' font-weight="bold" fill="#111"  stroke="#111" stroke-width="0.15">30</text>
<line x1="293.2" y1="222.22500000000002" x2="295.4" y2="222.22500000000002" stroke="#505050" stroke-width="1" />
<text x="292.1" y="226.79" font-size="8.0" text-anchor="end" font-family='"Liberation Sans", sans-serif' font-weight="bold" fill="#111"  stroke="#111" stroke-width="0.15">35</text>
<line x1="293.2" y1="207.0" x2="295.4" y2="207.0" stroke="#505050" stroke-width="1" />
<text x="292.1" y="211.56" font-size="8.0" text-anchor="end" font-family='"Liberation Sans", sans-serif' font-weight="bold" fill="#111"  stroke="#111" stroke-width="0.15">40</text>
<text x="0" y="0" font-size="8.7" text-anchor="middle" font-family='"Liberation Sans", sans-serif' font-weight="bold" fill="#111" transform="translate(275.31,268.4) rotate(-90)">% Mylotarg-Induced Apoptosis</text>
<text x="363.7" y="346.93" font-size="7.9" text-anchor="middle" font-family='"Liberation Sans", sans-serif' font-weight="bold" fill="#111"  stroke="#111" stroke-width="0.15">&gt; 5% Blasts (n = 18)</text>
<text x="453.6" y="346.85" font-size="7.95" text-anchor="middle" font-family='"Liberation Sans", sans-serif' font-weight="bold" fill="#111"  stroke="#111" stroke-width="0.15">≤ 5% Blasts (n = 30)</text>
<line x1="347" y1="322.3" x2="382.4" y2="322.3" stroke="#555" stroke-width="1.2" />
<line x1="432" y1="304.5" x2="468.6" y2="304.5" stroke="#555" stroke-width="1.1" />
<line x1="469.0" y1="298.6" x2="469.00" y2="296.50" stroke="#111" stroke-width="0.95" stroke-linecap="round"/>
<circle cx="469.00" cy="296.50" r="1.0" fill="#111"/>
<line x1="469.0" y1="298.6" x2="471.00" y2="297.95" stroke="#111" stroke-width="0.95" stroke-linecap="round"/>
<circle cx="471.00" cy="297.95" r="1.0" fill="#111"/>
<line x1="469.0" y1="298.6" x2="470.23" y2="300.30" stroke="#111" stroke-width="0.95" stroke-linecap="round"/>
<circle cx="470.23" cy="300.30" r="1.0" fill="#111"/>
<line x1="469.0" y1="298.6" x2="467.77" y2="300.30" stroke="#111" stroke-width="0.95" stroke-linecap="round"/>
<circle cx="467.77" cy="300.30" r="1.0" fill="#111"/>
<line x1="469.0" y1="298.6" x2="467.00" y2="297.95" stroke="#111" stroke-width="0.95" stroke-linecap="round"/>
<circle cx="467.00" cy="297.95" r="1.0" fill="#111"/>
<circle cx="368.3" cy="310.7" r="1.95" fill="#fff" stroke="#666" stroke-width="0.95"/>
<circle cx="361.9" cy="313" r="1.95" fill="#fff" stroke="#666" stroke-width="0.95"/>
<circle cx="368.8" cy="319.4" r="1.95" fill="#fff" stroke="#666" stroke-width="0.95"/>
<circle cx="368.6" cy="326" r="1.95" fill="#fff" stroke="#666" stroke-width="0.95"/>
<circle cx="368.3" cy="328.9" r="1.95" fill="#fff" stroke="#666" stroke-width="0.95"/>
<circle cx="450.4" cy="218.6" r="1.95" fill="#fff" stroke="#666" stroke-width="0.95"/>
<circle cx="450.4" cy="227.7" r="1.95" fill="#fff" stroke="#666" stroke-width="0.95"/>
<circle cx="450.4" cy="246.1" r="1.95" fill="#fff" stroke="#666" stroke-width="0.95"/>
<circle cx="445.7" cy="249.1" r="1.95" fill="#fff" stroke="#666" stroke-width="0.95"/>
<circle cx="445.7" cy="258.4" r="1.95" fill="#fff" stroke="#666" stroke-width="0.95"/>
<circle cx="450.5" cy="258.4" r="1.95" fill="#fff" stroke="#666" stroke-width="0.95"/>
<circle cx="450.4" cy="264.5" r="1.95" fill="#fff" stroke="#666" stroke-width="0.95"/>
<circle cx="450" cy="270.6" r="1.95" fill="#fff" stroke="#666" stroke-width="0.95"/>
<circle cx="450" cy="276.6" r="1.95" fill="#fff" stroke="#666" stroke-width="0.95"/>
<circle cx="445" cy="282.6" r="1.95" fill="#fff" stroke="#666" stroke-width="0.95"/>
<circle cx="450" cy="282.6" r="1.95" fill="#fff" stroke="#666" stroke-width="0.95"/>
<circle cx="450" cy="292" r="1.95" fill="#fff" stroke="#666" stroke-width="0.95"/>
<circle cx="455" cy="297.6" r="1.95" fill="#fff" stroke="#666" stroke-width="0.95"/>
<circle cx="450" cy="301.6" r="1.95" fill="#fff" stroke="#666" stroke-width="0.95"/>
<circle cx="445" cy="307.4" r="1.95" fill="#fff" stroke="#666" stroke-width="0.95"/>
<circle cx="450" cy="311" r="1.95" fill="#fff" stroke="#666" stroke-width="0.95"/>
<circle cx="445" cy="316.6" r="1.95" fill="#fff" stroke="#666" stroke-width="0.95"/>
<circle cx="450" cy="316.6" r="1.95" fill="#fff" stroke="#666" stroke-width="0.95"/>
<circle cx="455" cy="316.6" r="1.95" fill="#fff" stroke="#666" stroke-width="0.95"/>
<circle cx="455" cy="323" r="1.95" fill="#fff" stroke="#666" stroke-width="0.95"/>
<circle cx="445" cy="329" r="1.95" fill="#fff" stroke="#666" stroke-width="0.95"/>
<circle cx="455" cy="329" r="1.95" fill="#fff" stroke="#666" stroke-width="0.95"/>
<circle cx="364.2" cy="307.7" r="2.15" fill="#000"/>
<circle cx="359.2" cy="316.6" r="2.15" fill="#000"/>
<circle cx="364.3" cy="316.4" r="2.15" fill="#000"/>
<circle cx="368.6" cy="316.4" r="2.15" fill="#000"/>
<circle cx="364.5" cy="319.4" r="2.15" fill="#000"/>
<circle cx="359.9" cy="322.6" r="2.15" fill="#000"/>
<circle cx="364.5" cy="322.8" r="2.15" fill="#000"/>
<circle cx="359.9" cy="326" r="2.15" fill="#000"/>
<circle cx="355.8" cy="328.9" r="2.15" fill="#000"/>
<circle cx="364.3" cy="329" r="2.15" fill="#000"/>
<circle cx="372.9" cy="329" r="2.15" fill="#000"/>
<circle cx="450" cy="297.6" r="2.15" fill="#000"/>
<circle cx="450" cy="307.4" r="2.15" fill="#000"/>
<circle cx="455" cy="307.4" r="2.15" fill="#000"/>
<circle cx="445" cy="323" r="2.15" fill="#000"/>
<circle cx="450" cy="323" r="2.15" fill="#000"/>
<circle cx="460" cy="323" r="2.15" fill="#000"/>
<circle cx="440.6" cy="329" r="2.15" fill="#000"/>
<circle cx="450" cy="329" r="2.15" fill="#000"/>
<rect x="300.2" y="206.1" width="92" height="34" fill="#fff" stroke="#777" stroke-width="1"/>
<circle cx="307.0" cy="214.5" r="2.65" fill="#000"/>
<circle cx="307.0" cy="222.9" r="2.35" fill="#fff" stroke="#666" stroke-width="0.9"/>
<text x="315.9" y="217.71" font-size="7.6" text-anchor="start" font-family='"Liberation Serif", serif' font-weight="bold" fill="#111" textLength="47.5" lengthAdjust="spacingAndGlyphs" stroke="#111" stroke-width="0.2">CSA Sensitive</text>
<text x="315.9" y="227.51" font-size="7.6" text-anchor="start" font-family='"Liberation Serif", serif' font-weight="bold" fill="#111" textLength="62.3" lengthAdjust="spacingAndGlyphs" stroke="#111" stroke-width="0.2">CSA Insensitive or</text>
<text x="315.9" y="236.81" font-size="7.6" text-anchor="start" font-family='"Liberation Serif", serif' font-weight="bold" fill="#111" textLength="70.2" lengthAdjust="spacingAndGlyphs" stroke="#111" stroke-width="0.2">baseline efflux &lt; 1.21</text>
</svg></body></html>
